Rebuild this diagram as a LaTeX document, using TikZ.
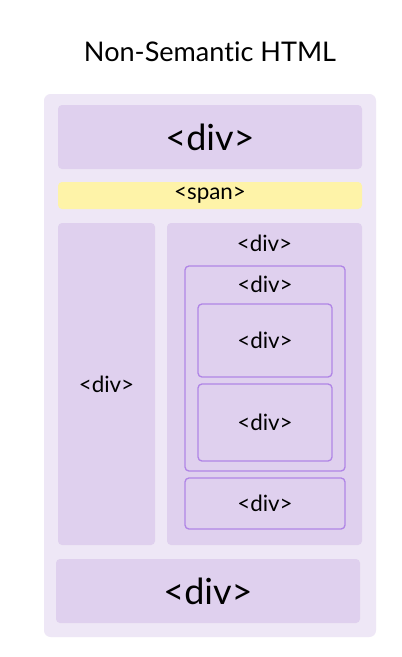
\documentclass[tikz,border=0pt]{standalone}
\usepackage{fontspec}
\setmainfont{Lato}[Ligatures=NoCommon]
\definecolor{outerbg}{HTML}{EEE7F6}
\definecolor{divbg}{HTML}{DFD0EE}
\definecolor{divline}{HTML}{B085E6}
\definecolor{spanbg}{HTML}{FEF3A8}
\begin{document}
\begin{tikzpicture}[
        x=0.75pt, y=-0.75pt,
        box/.style={rectangle, rounded corners=3pt, fill=divbg, inner sep=0pt, font=\fontsize{16.8}{19}\selectfont},
        bigbox/.style={box, font=\fontsize{27}{30}\selectfont},
        framed/.style={box, draw=divline, line width=1pt},
        tag/.style={inner sep=0pt, font=\fontsize{16.8}{19}\selectfont}
    ]
    \useasboundingbox[fill=white] (0,0) rectangle (402,657);
    \node[font=\fontsize{20.3}{24}\selectfont] (title) at (210,52) {Non-Semantic HTML};
    \node[rectangle, rounded corners=5pt, fill=outerbg, minimum width=332*0.75pt, minimum height=543*0.75pt] (page) at (210,365.5) {};
    % top and bottom blocks
    \node[bigbox, minimum width=304*0.75pt, minimum height=64*0.75pt] (top) at (210,137) {<div>};
    \node[box, fill=spanbg, minimum width=304*0.75pt, minimum height=27*0.75pt] (span) at (210,195.5) {<span>};
    \node[bigbox, minimum width=304*0.75pt, minimum height=64*0.75pt] (bottom) at (208,591) {<div>};
    % columns
    \node[box, minimum width=97*0.75pt, minimum height=322*0.75pt] (left) at (106.5,384) {<div>};
    \node[box, minimum width=195*0.75pt, minimum height=322*0.75pt] (right) at (264.5,384) {};
    \node[tag] (rightlbl) at (264.5,243) {<div>};
    % nested blocks
    \node[framed, minimum width=160*0.75pt, minimum height=205*0.75pt] (inner) at (265,368.5) {};
    \node[tag] (innerlbl) at (265,284) {<div>};
    \node[framed, minimum width=134*0.75pt, minimum height=73*0.75pt] (deep1) at (265,340.5) {<div>};
    \node[framed, minimum width=134*0.75pt, minimum height=77*0.75pt] (deep2) at (265,422.5) {<div>};
    \node[framed, minimum width=160*0.75pt, minimum height=51*0.75pt] (last) at (265,503.5) {<div>};
\end{tikzpicture}
\end{document}
